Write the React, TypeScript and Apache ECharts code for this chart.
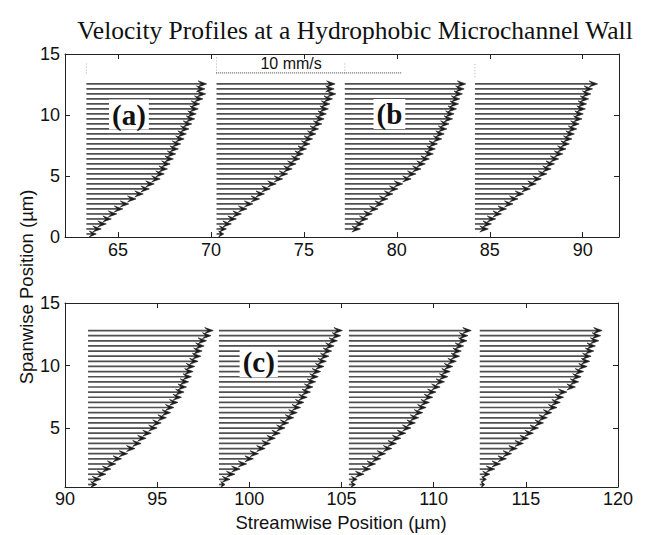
import React, { useEffect, useRef } from "react";
import * as echarts from "echarts";

// ---- data (µm positions, velocities in mm/s; quiver scale 1 mm/s -> 1 µm) ----
const spanYTop = [0.25, 0.66, 1.07, 1.48, 1.89, 2.3, 2.71, 3.12, 3.53, 3.94, 4.35, 4.76, 5.17, 5.58, 5.99, 6.4, 6.81, 7.22, 7.63, 8.04, 8.45, 8.86, 9.27, 9.68, 10.09, 10.5, 10.91, 11.32, 11.73, 12.14, 12.55];
const spanYBottom = [0.5, 0.91, 1.32, 1.73, 2.14, 2.55, 2.96, 3.37, 3.78, 4.19, 4.6, 5.01, 5.42, 5.83, 6.24, 6.65, 7.06, 7.47, 7.88, 8.29, 8.7, 9.11, 9.52, 9.93, 10.34, 10.75, 11.16, 11.57, 11.98, 12.39, 12.8];

const basesTop = [63.3, 70.3, 77.2, 84.2];
const basesBottom = [91.25, 98.35, 105.4, 112.5];

const velA1 = [0.53, 0.8, 1.07, 1.34, 1.64, 1.96, 2.28, 2.67, 3.06, 3.39, 3.65, 3.97, 4.19, 4.36, 4.51, 4.68, 4.81, 4.95, 5.08, 5.26, 5.38, 5.52, 5.67, 5.83, 5.91, 6.02, 6.1, 6.27, 6.42, 6.38, 6.47];
const velA2 = [0.39, 0.53, 0.8, 1.07, 1.34, 1.64, 1.96, 2.32, 2.58, 2.89, 3.21, 3.56, 3.83, 4.07, 4.28, 4.49, 4.67, 4.84, 5.03, 5.17, 5.35, 5.49, 5.67, 5.79, 5.91, 6.02, 6.1, 6.24, 6.42, 6.33, 6.38];
const velB1 = [null, 0.84, 1.02, 1.25, 1.48, 1.79, 2.09, 2.32, 2.59, 2.86, 3.12, 3.57, 3.83, 4.1, 4.33, 4.55, 4.76, 4.87, 4.99, 5.22, 5.35, 5.49, 5.61, 5.8, 5.88, 6.01, 6.12, 6.19, 6.33, 6.42, 6.51];
const velB2 = [null, 0.72, 0.89, 1.12, 1.43, 1.7, 2.05, 2.32, 2.62, 2.98, 3.3, 3.57, 3.87, 4.1, 4.28, 4.51, 4.73, 4.9, 5.08, 5.22, 5.35, 5.48, 5.61, 5.76, 5.83, 5.94, 6.01, 6.12, 6.24, 6.33, 6.6];
const velC1 = [0.48, 0.69, 0.97, 1.24, 1.51, 1.82, 2.15, 2.55, 2.88, 3.15, 3.43, 3.75, 3.97, 4.25, 4.48, 4.66, 4.88, 5.07, 5.21, 5.34, 5.46, 5.61, 5.7, 5.79, 5.97, 6.12, 6.19, 6.3, 6.43, 6.67, 6.79];
const velC2 = [0.33, 0.6, 0.87, 1.15, 1.51, 1.87, 2.15, 2.51, 2.79, 3.06, 3.33, 3.59, 3.79, 4.06, 4.25, 4.43, 4.61, 4.79, 4.97, 5.1, 5.25, 5.39, 5.52, 5.7, 5.83, 5.97, 6.12, 6.25, 6.43, 6.61, 6.7];
const velC3 = [0.36, 0.45, 0.82, 1.18, 1.45, 1.73, 2.0, 2.33, 2.58, 2.82, 3.09, 3.37, 3.61, 3.79, 4.01, 4.19, 4.37, 4.55, 4.73, 4.95, 5.19, 5.37, 5.5, 5.64, 5.83, 6.01, 6.1, 6.23, 6.41, 6.46, 6.64];
const velC4 = [0.27, 0.36, 0.55, 0.82, 1.13, 1.45, 1.73, 2.04, 2.37, 2.64, 2.91, 3.19, 3.46, 3.67, 3.91, 4.19, 4.37, 4.55, 4.73, 5.19, 5.37, 5.5, 5.64, 5.83, 5.97, 6.04, 6.19, 6.28, 6.46, 6.56, 6.64];

const xTicksTop = [65, 70, 75, 80, 85, 90];
const yTicksTop = [0, 5, 10, 15];
const xTicksBottom = [90, 95, 100, 105, 110, 115, 120];
const yTicksBottom = [5, 10, 15];

const panelLabelNamesTop = ["(a)", "(b"];
const panelLabelPosTop = [[65.59, 10.04], [79.6, 10.08]];
const panelLabelNamesBottom = ["(c)"];
const panelLabelPosBottom = [[100.51, 10.28]];

const scaleBar = [[70.28, 13.45, 10]]; // x0, y, length (10 mm/s)
const scaleBarLabel = "10 mm/s";
const refLinesTop = [[63.3, 13.4, 14.3], [70.3, 13.4, 14.8], [77.2, 13.4, 14.3], [84.2, 13.1, 14.3]];

const TITLE = "Velocity Profiles at a Hydrophobic Microchannel Wall";
const X_NAME = "Streamwise Position (µm)";
const Y_NAME = "Spanwise Position (µm)";

function quiverData(bases: number[], ys: number[], vels: (number | null)[][]) {
  const out: number[][] = [];
  bases.forEach((b, p) => {
    vels[p].forEach((u, i) => {
      if (u != null) out.push([b, ys[i], u]);
    });
  });
  return out;
}

const arrowRender = (params: any, api: any) => {
  const x0 = api.value(0);
  const y = api.value(1);
  const u = api.value(2);
  const p0 = api.coord([x0, y]);
  const p1 = api.coord([x0 + u, y]);
  const len = p1[0] - p0[0];
  const hl = Math.min(8.5, len * 0.7);
  const hw = 3;
  return {
    type: "group",
    children: [
      {
        type: "line",
        shape: { x1: p0[0], y1: p0[1], x2: p1[0] - hl * 0.5, y2: p1[1] },
        style: { stroke: "#505050", lineWidth: 1.7 },
      },
      {
        type: "polygon",
        shape: {
          points: [
            [p1[0], p1[1]],
            [p1[0] - hl, p1[1] - hw],
            [p1[0] - hl * 0.6, p1[1]],
            [p1[0] - hl, p1[1] + hw],
          ],
        },
        style: { fill: "#1a1a1a", stroke: "#1a1a1a", lineWidth: 0.6 },
      },
    ],
  };
};

const makeLabelRender = (names: string[]) => (params: any, api: any) => {
  const p = api.coord([api.value(0), api.value(1)]);
  return {
    type: "text",
    x: p[0],
    y: p[1],
    style: {
      text: names[params.dataIndex],
      fontFamily: "Liberation Serif",
      fontWeight: "bold",
      fontSize: 29,
      fill: "#111",
      backgroundColor: "#fff",
      padding: [1, 3, 0, 3],
      textAlign: "center",
      textVerticalAlign: "middle",
    },
  };
};

const axisFont = { fontFamily: "Liberation Sans", fontSize: 18, color: "#111" };
const lineStyle = { color: "#222", width: 1 };

function makeX(gridIndex: number, min: number, max: number, ticks: number[], pos: "top" | "bottom", margin: number) {
  return {
    type: "value",
    gridIndex,
    position: pos,
    min,
    max,
    axisLine: { show: true, onZero: false, lineStyle },
    axisTick: { show: true, inside: true, length: 5, customValues: ticks, lineStyle },
    axisLabel: { show: pos === "bottom", customValues: ticks, margin, ...axisFont },
    splitLine: { show: false },
  };
}
function makeY(gridIndex: number, min: number, max: number, ticks: number[], pos: "left" | "right") {
  return {
    type: "value",
    gridIndex,
    position: pos,
    min,
    max,
    axisLine: { show: true, onZero: false, lineStyle },
    axisTick: { show: true, inside: true, length: 5, customValues: ticks, lineStyle },
    axisLabel: { show: pos === "left", customValues: ticks, margin: 5, ...axisFont },
    splitLine: { show: false },
  };
}

export default function App() {
  const ref = useRef<HTMLDivElement>(null);
  useEffect(() => {
    if (!ref.current) return;
    const chart = echarts.init(ref.current, null, { renderer: "svg" });
    const topData = quiverData(basesTop, spanYTop, [velA1, velA2, velB1, velB2]);
    const bottomData = quiverData(basesBottom, spanYBottom, [velC1, velC2, velC3, velC4]);
    chart.setOption({
      animation: false,
      backgroundColor: "#fff",
      grid: [
        { left: 65, top: 54, width: 554, height: 183 },
        { left: 65, top: 303, width: 553, height: 184 },
      ],
      xAxis: [
        makeX(0, 62.15, 91.95, xTicksTop, "bottom", 4),
        makeX(0, 62.15, 91.95, xTicksTop, "top", 4),
        makeX(1, 90, 120, xTicksBottom, "bottom", 3),
        makeX(1, 90, 120, xTicksBottom, "top", 3),
      ],
      yAxis: [
        makeY(0, 0, 15, yTicksTop, "left"),
        makeY(0, 0, 15, yTicksTop, "right"),
        makeY(1, 0.3, 15, yTicksBottom, "left"),
        makeY(1, 0.3, 15, yTicksBottom, "right"),
      ],
      graphic: [
        {
          type: "text",
          x: 355,
          y: 30,
          style: {
            text: TITLE,
            fontFamily: "Liberation Serif",
            fontSize: 25.5,
            fill: "#111",
            textAlign: "center",
            textVerticalAlign: "middle",
          },
        },
        {
          type: "text",
          x: 341,
          y: 522,
          style: {
            text: X_NAME,
            fontFamily: "Liberation Sans",
            fontSize: 18.5,
            fill: "#111",
            textAlign: "center",
            textVerticalAlign: "middle",
          },
        },
        {
          type: "text",
          x: 26,
          y: 287,
          rotation: Math.PI / 2,
          style: {
            text: Y_NAME,
            fontFamily: "Liberation Sans",
            fontSize: 18.5,
            fill: "#111",
            textAlign: "center",
            textVerticalAlign: "middle",
          },
        },
      ],
      series: [
        {
          type: "custom",
          xAxisIndex: 0,
          yAxisIndex: 0,
          data: topData,
          encode: { x: 0, y: 1 },
          renderItem: arrowRender,
          z: 2,
        },
        {
          type: "custom",
          xAxisIndex: 2,
          yAxisIndex: 2,
          data: bottomData,
          encode: { x: 0, y: 1 },
          renderItem: arrowRender,
          z: 2,
        },
        {
          type: "custom",
          xAxisIndex: 0,
          yAxisIndex: 0,
          data: refLinesTop,
          encode: { x: 0, y: 1 },
          renderItem: (params: any, api: any) => {
            const a = api.coord([api.value(0), api.value(1)]);
            const b = api.coord([api.value(0), api.value(2)]);
            return {
              type: "line",
              shape: { x1: a[0], y1: a[1], x2: b[0], y2: b[1] },
              style: { stroke: "#b0b0b0", lineWidth: 1, lineDash: [1, 2] },
            };
          },
          z: 1,
        },
        {
          type: "custom",
          xAxisIndex: 0,
          yAxisIndex: 0,
          data: scaleBar,
          encode: { x: 0, y: 1 },
          renderItem: (params: any, api: any) => {
            const x0 = api.value(0);
            const y = api.value(1);
            const L = api.value(2);
            const a = api.coord([x0, y]);
            const b = api.coord([x0 + L, y]);
            return {
              type: "group",
              children: [
                {
                  type: "line",
                  shape: { x1: a[0], y1: a[1], x2: b[0], y2: b[1] },
                  style: { stroke: "#444", lineWidth: 1, lineDash: [1, 1] },
                },
                {
                  type: "text",
                  x: (a[0] + b[0]) / 2 - 18,
                  y: a[1] - 9,
                  style: {
                    text: scaleBarLabel,
                    fontFamily: "Liberation Sans",
                    fontSize: 16,
                    fill: "#111",
                    textAlign: "center",
                    textVerticalAlign: "middle",
                  },
                },
              ],
            };
          },
          z: 3,
        },
        {
          type: "custom",
          xAxisIndex: 0,
          yAxisIndex: 0,
          data: panelLabelPosTop,
          encode: { x: 0, y: 1 },
          renderItem: makeLabelRender(panelLabelNamesTop),
          z: 10,
        },
        {
          type: "custom",
          xAxisIndex: 2,
          yAxisIndex: 2,
          data: panelLabelPosBottom,
          encode: { x: 0, y: 1 },
          renderItem: makeLabelRender(panelLabelNamesBottom),
          z: 10,
        },
      ],
    });
    return () => chart.dispose();
  }, []);
  return (
    <div
      ref={ref}
      style={{ position: "fixed", left: 0, top: 0, width: 646, height: 535, background: "#fff" }}
    />
  );
}
